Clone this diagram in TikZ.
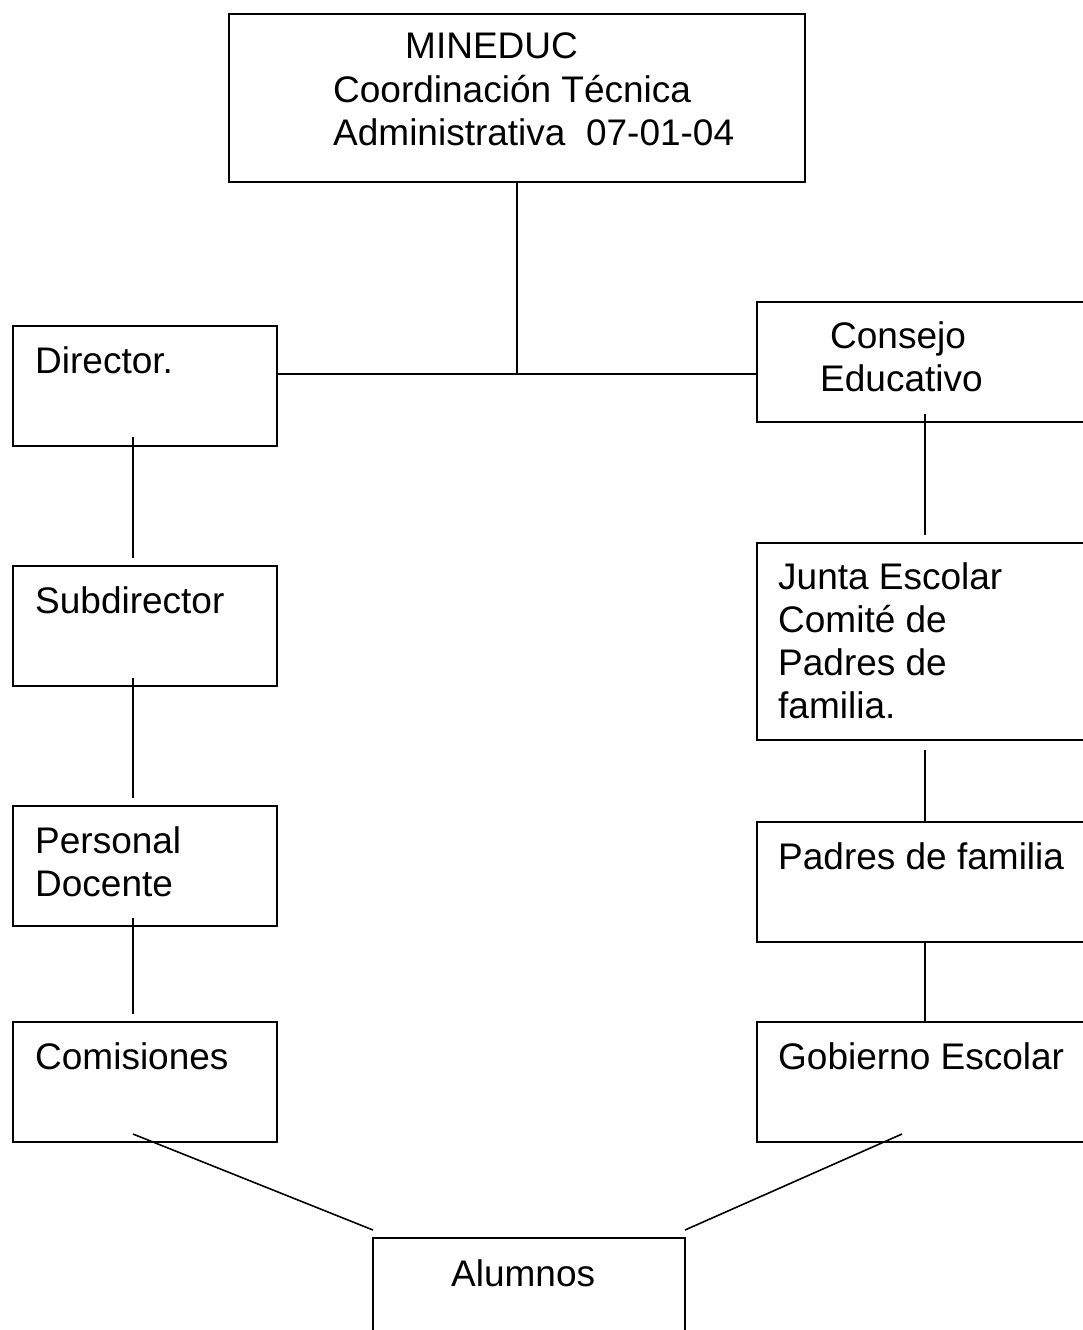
\documentclass[tikz,border=0pt]{standalone}
\usepackage{fontspec}
\setmainfont{Liberation Sans}
\begin{document}
\begin{tikzpicture}[x=1pt,y=-1pt,
  box/.style={draw, line width=1.6pt, rectangle, inner sep=0pt, outer sep=0pt, anchor=north west},
  wbox/.style={box, minimum width=264pt, minimum height=120pt},
  rbox/.style={box, minimum width=400pt, minimum height=120pt},
  txt/.style={inner sep=0pt, anchor=base west, font=\fontsize{37}{43}\selectfont},
  conn/.style={line width=1.6pt}]
\useasboundingbox (0,0) rectangle (1083,1330);
\fill[white] (0,0) rectangle (1083,1330);
\clip (0,0) rectangle (1083,1330);

% top box
\node[box, minimum width=576pt, minimum height=168pt] (top) at (229,14) {};
\node[txt] (top1) at (405,59) {MINEDUC};
\node[txt] (top2) at (333,102) {Coordinación Técnica};
\node[txt] (top3) at (333,145) {Administrativa~ 07-01-04};

% left column
\node[wbox] (dir) at (13,326) {};
\node[txt] (dirt) at (35,373) {Director.};
\node[wbox] (sub) at (13,566) {};
\node[txt] (subt) at (35,613) {Subdirector};
\node[wbox] (doc) at (13,806) {};
\node[txt] (doct1) at (35,853) {Personal};
\node[txt] (doct2) at (35,896) {Docente};
\node[wbox] (com) at (13,1022) {};
\node[txt] (comt) at (35,1069) {Comisiones};

% right column
\node[rbox] (cons) at (757,302) {};
\node[txt] (const1) at (830,348) {Consejo};
\node[txt] (const2) at (820,391) {Educativo};
\node[box, minimum width=400pt, minimum height=197pt] (junta) at (757,543) {};
\node[txt] (juntat1) at (778,589) {Junta Escolar};
\node[txt] (juntat2) at (778,632) {Comité de};
\node[txt] (juntat3) at (778,675) {Padres de};
\node[txt] (juntat4) at (778,718) {familia.};
\node[rbox] (pad) at (757,822) {};
\node[txt] (padt) at (778,869) {Padres de familia};
\node[rbox] (gob) at (757,1022) {};
\node[txt] (gobt) at (778,1069) {Gobierno Escolar};

% bottom
\node[box, minimum width=312pt, minimum height=150pt] (alu) at (373,1238) {};
\node[txt] (alut) at (451,1286) {Alumnos};

% connectors
\coordinate (j) at (517,374);
\draw[conn] (top.south) -- (j);
\draw[conn] (dir.east |- j) -- (cons.west |- j);

\draw[conn] ([xshift=120pt,yshift=9pt]dir.south west) -- ([xshift=120pt,yshift=8pt]sub.north west);
\draw[conn] ([xshift=120pt,yshift=8pt]sub.south west) -- ([xshift=120pt,yshift=8pt]doc.north west);
\draw[conn] ([xshift=120pt,yshift=8pt]doc.south west) -- ([xshift=120pt,yshift=8pt]com.north west);

\draw[conn] ([xshift=168pt,yshift=8pt]cons.south west) -- ([xshift=168pt,yshift=8pt]junta.north west);
\draw[conn] ([xshift=168pt,yshift=-10pt]junta.south west) -- ([xshift=168pt]pad.north west);
\draw[conn] ([xshift=168pt]pad.south west) -- ([xshift=168pt]gob.north west);

\draw[conn] ([xshift=120pt,yshift=8pt]com.south west) -- ([yshift=8pt]alu.north west);
\draw[conn] ([xshift=145pt,yshift=8pt]gob.south west) -- ([yshift=8pt]alu.north east);
\end{tikzpicture}
\end{document}
